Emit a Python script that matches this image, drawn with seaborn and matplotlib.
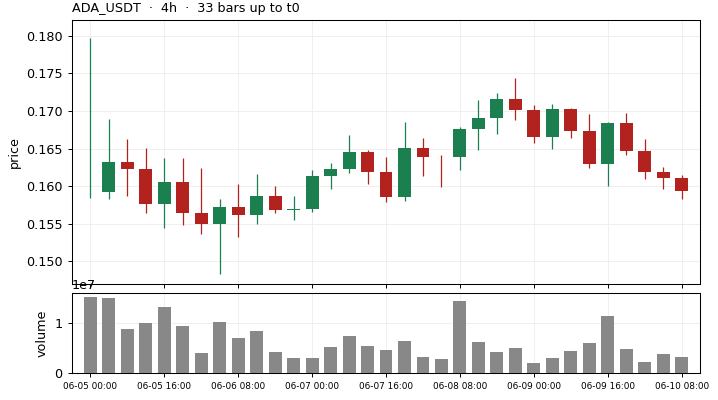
import numpy as np
import pandas as pd
import matplotlib
matplotlib.use("Agg")
import matplotlib.pyplot as plt
import seaborn as sns

# OHLCV for the 33 bars
symbol = "ADA_USDT"
timeframe = "4h"
times = pd.date_range("2024-06-05 00:00", periods=33, freq="4h")

opens = [np.nan, 0.1592, 0.1632, 0.1623, 0.1577, 0.1606, 0.1565, 0.1550, 0.1572, 0.1562,
         0.1587, 0.1569, 0.15695, 0.1614, 0.1623, 0.1646, 0.1619, 0.1586, 0.1651, 0.1639,
         0.16385, 0.1676, 0.1691, 0.1716, 0.1702, 0.1665, 0.1703, 0.1674, 0.1629, 0.1684,
         0.1647, 0.1619, 0.1611]
highs = [0.1797, 0.1690, 0.1663, 0.1651, 0.1637, 0.1637, 0.1624, 0.1583, 0.1603, 0.1616,
         0.1600, 0.1587, 0.1622, 0.1631, 0.1668, 0.1648, 0.1639, 0.1686, 0.1664, 0.1642,
         0.1679, 0.1714, 0.1724, 0.1744, 0.1708, 0.1709, 0.1704, 0.1696, 0.1686, 0.1697,
         0.1663, 0.1626, 0.1615]
lows = [0.1584, 0.1583, 0.1587, 0.1564, 0.1544, 0.1549, 0.1537, 0.1484, 0.1533, 0.1550,
        0.1565, 0.1555, 0.1566, 0.1596, 0.1617, 0.1603, 0.1579, 0.1580, 0.1613, 0.1599,
        0.1622, 0.1648, 0.1670, 0.1688, 0.1657, 0.1649, 0.1664, 0.1624, 0.1600, 0.1642,
        0.1609, 0.1596, 0.1583]
closes = [0.1592, 0.1632, 0.1623, 0.1577, 0.1606, 0.1565, 0.1550, 0.1572, 0.1562, 0.1587,
          0.1569, 0.15695, 0.1614, 0.1623, 0.1646, 0.1619, 0.1586, 0.1651, 0.1639, 0.16385,
          0.1676, 0.1691, 0.1716, 0.1702, 0.1665, 0.1703, 0.1674, 0.1629, 0.1684, 0.1647,
          0.1619, 0.1611, 0.1594]
volumes = [1.526e7, 1.507e7, 0.875e7, 0.993e7, 1.329e7, 0.934e7, 0.401e7, 1.013e7, 0.697e7,
           0.836e7, 0.421e7, 0.303e7, 0.303e7, 0.520e7, 0.737e7, 0.539e7, 0.461e7, 0.638e7,
           0.322e7, 0.283e7, 1.447e7, 0.618e7, 0.421e7, 0.500e7, 0.204e7, 0.303e7, 0.441e7,
           0.599e7, 1.132e7, 0.480e7, 0.224e7, 0.382e7, 0.322e7]

df = pd.DataFrame({"time": times, "open": opens, "high": highs, "low": lows,
                   "close": closes, "volume": volumes})
df["x"] = np.arange(len(df))

sns.set_theme(style="ticks")
plt.rcParams.update({
    "font.family": ["DejaVu Sans"],
    "font.size": 9.2,
    "axes.labelsize": 9.2,
    "axes.titlesize": 9.2,
    "xtick.labelsize": 9.2,
    "ytick.labelsize": 9.2,
    "text.color": "black",
    "axes.labelcolor": "black",
    "xtick.color": "black",
    "ytick.color": "black",
    "axes.linewidth": 0.75,
    "xtick.major.size": 3.2,
    "ytick.major.size": 3.2,
    "xtick.major.width": 0.7,
    "ytick.major.width": 0.7,
    "axes.edgecolor": "black",
})

UP = "#1b7f4f"
DOWN = "#b2231f"

fig = plt.figure(figsize=(7.18, 4.0), dpi=100)
gs = fig.add_gridspec(2, 1, height_ratios=[3.3, 1], hspace=0.052,
                      left=0.1003, right=0.975, top=0.95, bottom=0.0675)
ax = fig.add_subplot(gs[0])
ax_vol = fig.add_subplot(gs[1], sharex=ax)

up = ~(df["close"] < df["open"])
colors = np.where(up, UP, DOWN)

# wicks
ax.vlines(df["x"], df["low"], df["high"], colors=colors, linewidth=0.9, zorder=2)
# bodies
body_bottom = np.minimum(df["open"], df["close"])
body_height = np.maximum((df["close"] - df["open"]).abs(), 0.00008)
ax.bar(df["x"], body_height, bottom=body_bottom, width=0.7, color=colors,
       linewidth=0, zorder=3)

ax.set_ylim(0.1470, 0.1821)
ax.set_ylabel("price")
ax.grid(True, color="0.93", linewidth=0.6)
ax.set_axisbelow(True)
ax.tick_params(labelbottom=False)
ax.set_title(f"{symbol}  \u00b7  {timeframe}  \u00b7  {len(df)} bars up to t0",
             loc="left", pad=5.5)

# volume
sns.barplot(data=df, x="x", y="volume", native_scale=True, color="#888888",
            saturation=1, width=0.7, linewidth=0, ax=ax_vol, zorder=3)
ax_vol.set_yticks([0, 1e7])
ax_vol.set_ylabel("volume")
ax_vol.set_xlabel("")
ax_vol.grid(True, color="0.93", linewidth=0.6)
ax_vol.set_axisbelow(True)

tick_idx = df["x"][::4]
ax_vol.set_xticks(tick_idx)
ax_vol.set_xticklabels(df["time"][::4].dt.strftime("%m-%d %H:%M"), fontsize=6.4)
ax_vol.set_xlim(-1, 33)

fig.savefig("out.png", dpi=100)
